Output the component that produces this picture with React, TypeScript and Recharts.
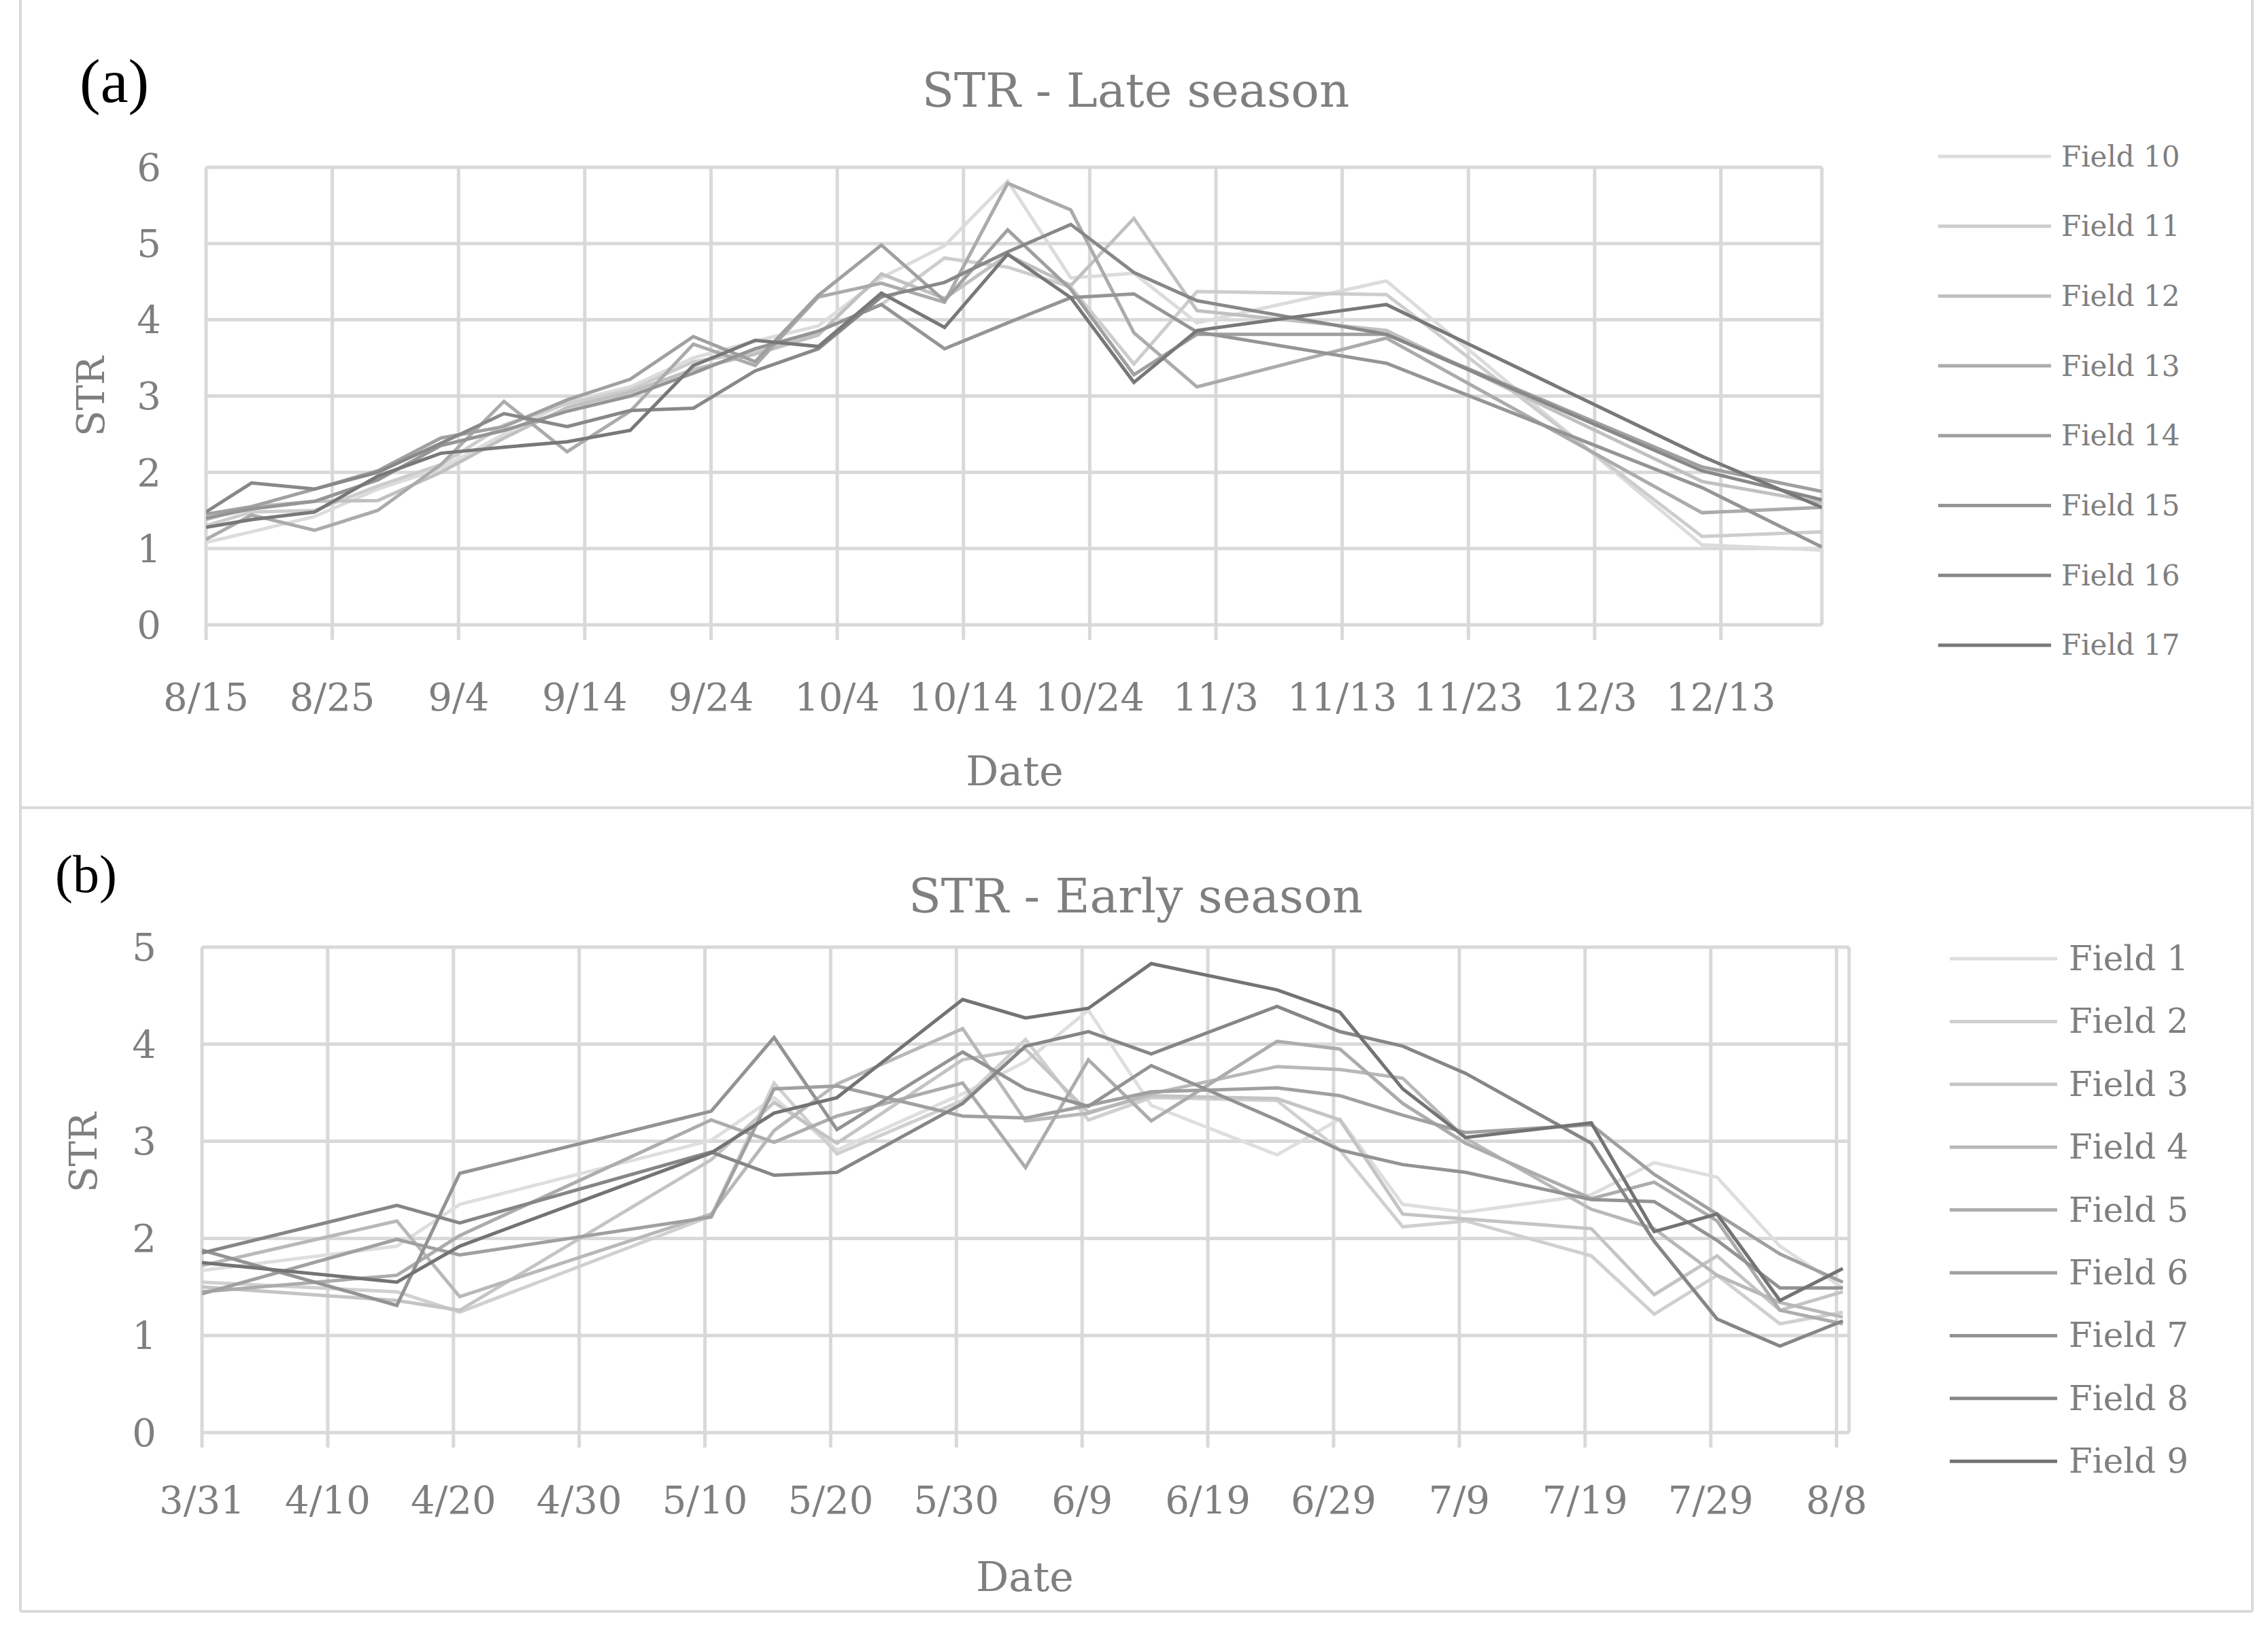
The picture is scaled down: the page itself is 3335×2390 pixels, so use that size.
import { LineChart, Line, XAxis, YAxis, CartesianGrid } from 'recharts';

const FONT = '"DejaVu Serif", serif';
const TEXT = '#7f7f7f';
const GRID = '#d9d9d9';

// (a) late season: days after 8/15 at which STR was sampled
const lateDays = [0, 3.6, 8.6, 13.6, 18.6, 23.6, 28.6, 33.6, 38.6, 43.5, 48.5, 53.5, 58.5, 63.5, 68.5, 73.5, 78.5, 93.5, 118.5, 128];
const lateTickLabels = ['8/15', '8/25', '9/4', '9/14', '9/24', '10/4', '10/14', '10/24', '11/3', '11/13', '11/23', '12/3', '12/13'];
const lateNames = ['Field 10', 'Field 11', 'Field 12', 'Field 13', 'Field 14', 'Field 15', 'Field 16', 'Field 17'];
const lateColors = ['#dcdcdc', '#cdcdcd', '#c0c0c0', '#ababab', '#a0a0a0', '#959595', '#888888', '#787878'];

const field10 = [1.08, 1.22, 1.42, 1.78, 2.05, 2.50, 2.92, 3.12, 3.50, 3.72, 3.92, 4.55, 4.97, 5.82, 4.55, 4.61, 3.96, 4.51, 1.05, 0.98];
const field11 = [1.30, 1.48, 1.50, 1.82, 2.10, 2.62, 2.90, 3.08, 3.45, 3.58, 3.85, 4.20, 4.81, 4.69, 4.43, 3.42, 4.37, 4.33, 1.16, 1.22];
const field12 = [1.38, 1.55, 1.62, 1.63, 2.00, 2.45, 2.85, 3.05, 3.35, 3.55, 3.80, 4.60, 4.28, 4.85, 4.45, 5.33, 4.12, 3.86, 1.88, 1.60];
const field13 = [1.12, 1.44, 1.24, 1.50, 2.10, 2.93, 2.27, 2.80, 3.68, 3.40, 4.30, 4.48, 4.23, 5.79, 5.44, 3.83, 3.12, 3.76, 1.47, 1.54];
const field14 = [1.45, 1.55, 1.78, 2.02, 2.45, 2.60, 2.95, 3.22, 3.78, 3.45, 4.32, 4.98, 4.25, 5.18, 4.40, 3.28, 3.81, 3.81, 2.07, 1.75];
const field15 = [1.40, 1.52, 1.62, 1.90, 2.35, 2.55, 2.80, 3.00, 3.30, 3.62, 3.85, 4.20, 3.62, 3.96, 4.29, 4.34, 3.84, 3.43, 1.80, 1.02];
const field16 = [1.48, 1.86, 1.78, 2.00, 2.38, 2.77, 2.60, 2.81, 2.84, 3.33, 3.62, 4.30, 4.49, 4.89, 5.25, 4.62, 4.25, 3.81, 2.02, 1.64];
const field17 = [1.28, 1.38, 1.48, 1.95, 2.25, 2.33, 2.40, 2.55, 3.40, 3.73, 3.65, 4.35, 3.90, 4.86, 4.29, 3.18, 3.86, 4.20, 2.21, 1.54];
const lateSeries = [field10, field11, field12, field13, field14, field15, field16, field17];

// (b) early season: days after 3/31
const earlyDays = [0, 15.5, 20.5, 40.5, 45.5, 50.5, 60.5, 65.5, 70.5, 75.5, 85.5, 90.5, 95.5, 100.5, 110.5, 115.5, 120.5, 125.5, 130.5];
const earlyTickLabels = ['3/31', '4/10', '4/20', '4/30', '5/10', '5/20', '5/30', '6/9', '6/19', '6/29', '7/9', '7/19', '7/29', '8/8'];
const earlyNames = ['Field 1', 'Field 2', 'Field 3', 'Field 4', 'Field 5', 'Field 6', 'Field 7', 'Field 8', 'Field 9'];
const earlyColors = ['#dedede', '#d0d0d0', '#c4c4c4', '#b8b8b8', '#acacac', '#a0a0a0', '#939393', '#868686', '#737373'];

const field1 = [1.67, 1.92, 2.35, 3.01, 3.45, 2.91, 3.49, 3.82, 4.35, 3.37, 2.86, 3.23, 2.35, 2.27, 2.45, 2.78, 2.63, 1.92, 1.49];
const field2 = [1.55, 1.45, 1.24, 2.23, 3.60, 2.87, 3.42, 4.05, 3.22, 3.45, 3.42, 2.91, 2.12, 2.18, 1.82, 1.22, 1.62, 1.12, 1.24];
const field3 = [1.50, 1.36, 1.26, 2.81, 3.40, 2.98, 3.84, 3.95, 3.30, 3.47, 3.44, 3.22, 2.25, 2.20, 2.10, 1.42, 1.82, 1.26, 1.45];
const field4 = [1.72, 2.18, 1.40, 2.25, 3.11, 3.59, 4.16, 3.21, 3.29, 3.49, 3.77, 3.74, 3.65, 3.03, 2.30, 2.10, 1.62, 1.34, 1.19];
const field5 = [1.45, 1.62, 2.03, 3.22, 2.99, 3.26, 3.60, 2.73, 3.84, 3.21, 4.03, 3.95, 3.39, 2.98, 2.41, 2.58, 2.18, 1.26, 1.12];
const field6 = [1.43, 1.99, 1.83, 2.22, 3.54, 3.57, 3.26, 3.24, 3.37, 3.51, 3.55, 3.47, 3.27, 3.09, 3.17, 2.66, 2.25, 1.84, 1.55];
const field7 = [1.88, 1.31, 2.67, 3.31, 4.07, 3.12, 3.92, 3.54, 3.36, 3.78, 3.22, 2.91, 2.76, 2.68, 2.40, 2.38, 1.98, 1.49, 1.49];
const field8 = [1.85, 2.34, 2.16, 2.89, 2.65, 2.68, 3.39, 3.98, 4.13, 3.90, 4.39, 4.13, 3.98, 3.70, 2.98, 1.97, 1.17, 0.89, 1.15];
const field9 = [1.75, 1.55, 1.92, 2.88, 3.29, 3.45, 4.46, 4.27, 4.37, 4.83, 4.56, 4.33, 3.54, 3.04, 3.19, 2.07, 2.25, 1.36, 1.69];
const earlySeries = [field1, field2, field3, field4, field5, field6, field7, field8, field9];

function buildRows(days: number[], names: string[], series: number[][]) {
  return days.map((d, i) => {
    const row: Record<string, number> = { d };
    names.forEach((n, k) => {
      row[n] = series[k][i];
    });
    return row;
  });
}

const lateData = buildRows(lateDays, lateNames, lateSeries);
const earlyData = buildRows(earlyDays, earlyNames, earlySeries);

type PanelProps = {
  top: number;
  height: number;
  data: Record<string, number>[];
  names: string[];
  colors: string[];
  tickLabels: string[];
  xMax: number;
  yMax: number;
  margin: { top: number; right: number; bottom: number; left: number };
  xTickMargin: number;
  yTickMargin: number;
};

function Panel(p: PanelProps) {
  const xTicks = p.tickLabels.map((_, i) => i * 10);
  const yTicks = Array.from({ length: p.yMax + 1 }, (_, i) => i);
  return (
    <div style={{ position: 'absolute', left: 0, top: p.top }}>
      <LineChart width={3335} height={p.height} data={p.data} margin={p.margin}>
        <CartesianGrid stroke={GRID} strokeWidth={5} />
        <XAxis
          type="number"
          dataKey="d"
          domain={[0, p.xMax]}
          ticks={xTicks}
          allowDataOverflow
          height={60}
          axisLine={false}
          tickLine={{ stroke: GRID, strokeWidth: 5 }}
          tickSize={22}
          tickMargin={p.xTickMargin}
          tickFormatter={(v: number) => p.tickLabels[Math.round(v / 10)]}
          tick={{ fill: TEXT, fontSize: 56, fontFamily: FONT }}
          interval={0}
        />
        <YAxis
          type="number"
          domain={[0, p.yMax]}
          ticks={yTicks}
          width={100}
          axisLine={false}
          tickLine={false}
          tickSize={0}
          tickMargin={p.yTickMargin}
          tick={{ fill: TEXT, fontSize: 56, fontFamily: FONT }}
          interval={0}
        />
        {p.names.map((n, k) => (
          <Line
            key={n}
            type="linear"
            dataKey={n}
            stroke={p.colors[k]}
            strokeWidth={5}
            dot={false}
            isAnimationActive={false}
          />
        ))}
      </LineChart>
    </div>
  );
}

function LegendRows(props: { names: string[]; colors: string[]; x1: number; x2: number; tx: number; y0: number; dy: number; fontSize: number }) {
  return (
    <g>
      {props.names.map((n, k) => {
        const y = props.y0 + k * props.dy;
        return (
          <g key={n}>
            <line x1={props.x1} x2={props.x2} y1={y} y2={y} stroke={props.colors[k]} strokeWidth={5} />
            <text x={props.tx} y={y} dominantBaseline="central" fill={TEXT} fontSize={props.fontSize} fontFamily={FONT}>
              {n}
            </text>
          </g>
        );
      })}
    </g>
  );
}

export default function App() {
  return (
    <div style={{ position: 'absolute', left: 0, top: 0, width: 3335, height: 2390, background: '#fff', overflow: 'hidden' }}>
      <Panel
        top={0}
        height={1188}
        data={lateData}
        names={lateNames}
        colors={lateColors}
        tickLabels={lateTickLabels}
        xMax={128}
        yMax={6}
        margin={{ top: 246, right: 656, bottom: 209, left: 203 }}
        xTickMargin={64}
        yTickMargin={66}
      />
      <Panel
        top={1188}
        height={1190}
        data={earlyData}
        names={earlyNames}
        colors={earlyColors}
        tickLabels={earlyTickLabels}
        xMax={131}
        yMax={5}
        margin={{ top: 205, right: 616, bottom: 211, left: 197 }}
        xTickMargin={57}
        yTickMargin={67}
      />
      <svg width={3335} height={2390} style={{ position: 'absolute', left: 0, top: 0, pointerEvents: 'none' }}>
        <g stroke={GRID} strokeWidth={4}>
          <line x1={30} x2={30} y1={0} y2={2370} />
          <line x1={3312} x2={3312} y1={0} y2={2370} />
          <line x1={30} x2={3312} y1={1188} y2={1188} />
          <line x1={30} x2={3312} y1={2370} y2={2370} />
        </g>
        <text x={117} y={150} fontSize={92} fontFamily='"Liberation Serif", serif' fill="#000">(a)</text>
        <text x={81} y={1312} fontSize={78} fontFamily='"Liberation Serif", serif' fill="#000">(b)</text>
        <text x={1670} y={157} textAnchor="middle" fontSize={69} fontFamily={FONT} fill={TEXT}>STR - Late season</text>
        <text x={1670} y={1342} textAnchor="middle" fontSize={70} fontFamily={FONT} fill={TEXT}>STR - Early season</text>
        <text x={133} y={583} transform="rotate(-90 133 583)" textAnchor="middle" dominantBaseline="central" fontSize={56} fontFamily={FONT} fill={TEXT}>STR</text>
        <text x={122} y={1695} transform="rotate(-90 122 1695)" textAnchor="middle" dominantBaseline="central" fontSize={56} fontFamily={FONT} fill={TEXT}>STR</text>
        <text x={1492} y={1155} textAnchor="middle" fontSize={60} fontFamily={FONT} fill={TEXT}>Date</text>
        <text x={1507} y={2340} textAnchor="middle" fontSize={60} fontFamily={FONT} fill={TEXT}>Date</text>
        <LegendRows names={lateNames} colors={lateColors} x1={2850} x2={3016} tx={3031} y0={230} dy={102.7} fontSize={42} />
        <LegendRows names={earlyNames} colors={earlyColors} x1={2867} x2={3025} tx={3042} y0={1410} dy={92.4} fontSize={50} />
      </svg>
    </div>
  );
}
